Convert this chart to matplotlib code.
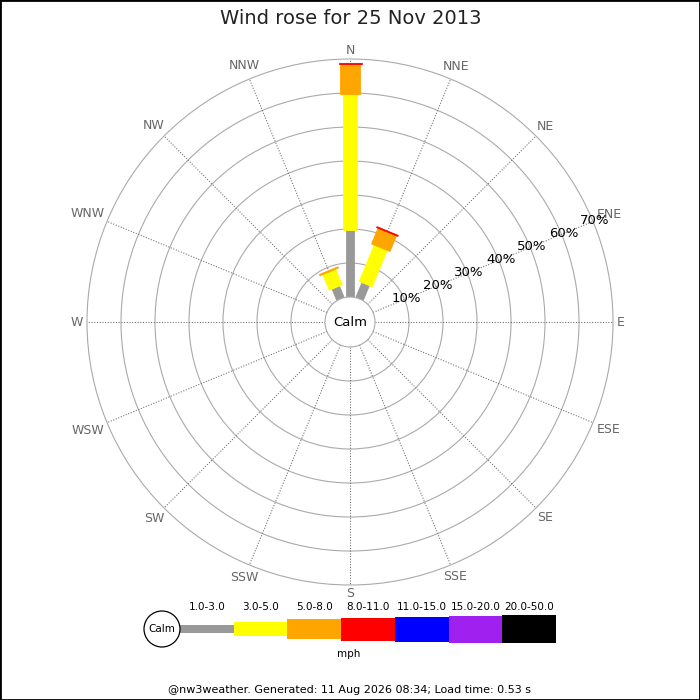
import numpy as np
import matplotlib
matplotlib.use("Agg")
import matplotlib.pyplot as plt
from matplotlib.patches import Circle, Polygon, Rectangle

# --- data -------------------------------------------------------------
directions = ["N", "NNE", "NE", "ENE", "E", "ESE", "SE", "SSE",
              "S", "SSW", "SW", "WSW", "W", "WNW", "NW", "NNW"]
bands = ["1.0-3.0", "3.0-5.0", "5.0-8.0", "8.0-11.0",
         "11.0-15.0", "15.0-20.0", "20.0-50.0"]
colours = ["#999999", "#ffff00", "#ffa500", "#ff0000",
           "#0000ff", "#a020f0", "#000000"]

# percentage of time in each speed band, per direction (N first, clockwise)
pct_1_3   = [19.7, 4.7, 0, 0, 0, 0, 0, 0, 0, 0, 0, 0, 0, 0, 0, 3.6]
pct_3_5   = [40.0, 11.6, 0, 0, 0, 0, 0, 0, 0, 0, 0, 0, 0, 0, 0, 5.0]
pct_5_8   = [8.8, 5.0, 0, 0, 0, 0, 0, 0, 0, 0, 0, 0, 0, 0, 0, 0.4]
pct_8_11  = [0.3, 0.3, 0, 0, 0, 0, 0, 0, 0, 0, 0, 0, 0, 0, 0, 0]
pct_11_15 = [0] * 16
pct_15_20 = [0] * 16
pct_20_50 = [0] * 16
ring_pcts = [10, 20, 30, 40, 50, 60, 70]

title = "Wind rose for 25 Nov 2013"
footer = "@nw3weather. Generated: 11 Aug 2026 08:34; Load time: 0.53 s"

# --- layout (pixels) ---------------------------------------------------
cx, cy = 350, 322
calm_r = 25
px_per_pct = 3.4
band_w = [8, 14, 20, 23, 25, 27, 28]


def radius(p):
    return calm_r + p * px_per_pct


def point(r, ang):
    a = np.radians(ang)
    return cx + r * np.sin(a), cy - r * np.cos(a)


fig = plt.figure(figsize=(7, 7), dpi=100)
ax = fig.add_axes([0, 0, 1, 1])
ax.set_xlim(0, 700)
ax.set_ylim(700, 0)
ax.axis("off")
renderer = fig.canvas.get_renderer()

# rings
for p in ring_pcts:
    ax.add_patch(Circle((cx, cy), radius(p), fill=False, ec="#aaaaaa", lw=0.8, zorder=1))

# spokes + direction labels
angles = np.arange(16) * 22.5
outer = radius(ring_pcts[-1])
for d, ang in zip(directions, angles):
    x0, y0 = point(calm_r, ang)
    x1, y1 = point(outer, ang)
    ax.plot([x0, x1], [y0, y1], ls=(0, (1, 1.6)), color="#666666", lw=0.75, zorder=1)
    t = ax.text(0, 0, d, ha="center", va="center", fontsize=9, color="#666666", zorder=5)
    bb = t.get_window_extent(renderer)
    s, c = abs(np.sin(np.radians(ang))), abs(np.cos(np.radians(ang)))
    off = 4 + bb.width / 2 * s + bb.height * 0.35 * c
    t.set_position(point(outer + off, ang))

# bars
all_bands = [pct_1_3, pct_3_5, pct_5_8, pct_8_11, pct_11_15, pct_15_20, pct_20_50]
for i, ang in enumerate(angles):
    start = 0.0
    a = np.radians(ang)
    u = np.array([np.sin(a), -np.cos(a)])
    pvec = np.array([np.cos(a), np.sin(a)])
    c0 = np.array([cx, cy])
    for b, vals in enumerate(all_bands):
        v = vals[i]
        if v <= 0:
            continue
        r0, r1 = radius(start), radius(start + v)
        h = band_w[b] / 2
        pts = [c0 + u * r0 - pvec * h, c0 + u * r1 - pvec * h,
               c0 + u * r1 + pvec * h, c0 + u * r0 + pvec * h]
        ax.add_patch(Polygon(pts, closed=True, fc=colours[b], ec=colours[b],
                             lw=0.6, zorder=3 + b * 0.01))
        start += v

# calm circle
ax.add_patch(Circle((cx, cy), calm_r, fc="white", ec="#aaaaaa", lw=0.8, zorder=4))
ax.text(cx, cy, "Calm", ha="center", va="center", fontsize=9.5, zorder=5)

# percentage labels along ENE
for p in ring_pcts:
    lx, ly = point(radius(p) + 2, 67.5)
    ax.text(lx, ly, f"{p}%", ha="center", va="center", fontsize=9.5, zorder=5)

ax.text(351, 18, title, ha="center", va="center", fontsize=14, color="#222222")

# legend
lg_y = 629
lg_x0, lg_x1 = 180, 556
seg = (lg_x1 - lg_x0) / len(bands)
for b, (lab, col) in enumerate(zip(bands, colours)):
    x = lg_x0 + b * seg
    ax.add_patch(Rectangle((x, lg_y - band_w[b] / 2), seg, band_w[b], fc=col, ec="none", zorder=3))
    ax.text(x + seg / 2, 607, lab, ha="center", va="center", fontsize=7.5)
ax.add_patch(Circle((162, lg_y), 18, fc="white", ec="black", lw=0.9, zorder=4))
ax.text(162, lg_y, "Calm", ha="center", va="center", fontsize=7.5, zorder=5)
ax.text(349, 654, "mph", ha="center", va="center", fontsize=7.5)

ax.text(350, 690, footer, ha="center", va="center", fontsize=8)

# border
fig.patches.append(Rectangle((0, 0), 1, 1, transform=fig.transFigure, fill=False,
                             ec="black", lw=2, zorder=10))

fig.savefig("out.png", dpi=100)
